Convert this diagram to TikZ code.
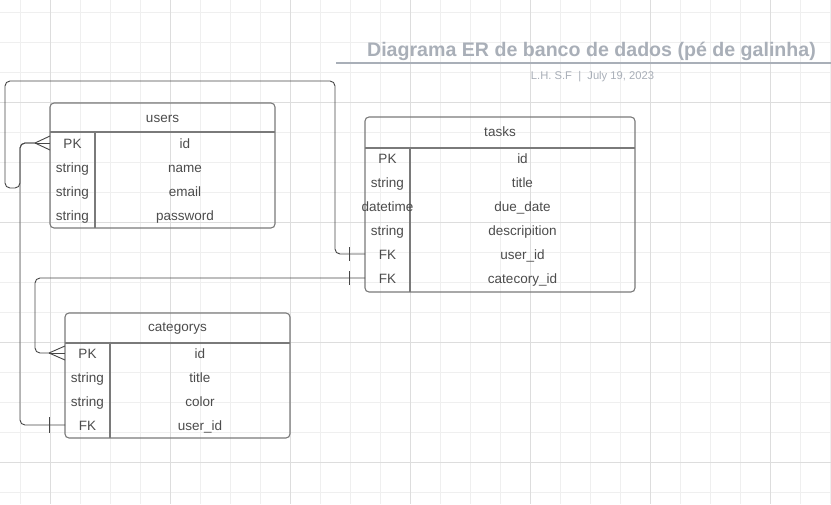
\documentclass[tikz,border=0pt]{standalone}
\usepackage{fontspec}
\setmainfont{Liberation Sans}
\usetikzlibrary{calc}
\definecolor{gridminor}{HTML}{EFEFEF}
\definecolor{gridmajor}{HTML}{DDDDDD}
\definecolor{boxline}{HTML}{7A7A7A}
\definecolor{txt}{HTML}{4C4C4C}
\definecolor{conn}{HTML}{474747}
\definecolor{titlec}{HTML}{A9AFB8}
\begin{document}
\begin{tikzpicture}[x=1pt,y=-1pt,
  tbl/.style={draw=boxline, line width=1.1pt, rounded corners=4pt, inner sep=0pt, outer sep=0pt},
  sepline/.style={draw=boxline, line width=1.1pt},
  cell/.style={text=txt, font=\fontsize{13.5}{15}\selectfont, inner sep=0pt, text height=11.8pt, text depth=1.8pt},
  link/.style={draw=conn, line width=0.9pt, rounded corners=5pt},
  barmark/.style={draw=conn, line width=0.9pt},
  minorline/.style={draw=gridminor, line width=0.8pt},
  majorline/.style={draw=gridmajor, line width=0.9pt}]
\useasboundingbox (0,0) rectangle (831,504);
\fill[white] (0,0) rectangle (831,504);
% grid
\foreach \x in {20,50,...,830} \draw[minorline] (\x,0) -- (\x,504);
\foreach \y in {12,42,...,502} \draw[minorline] (0,\y) -- (831,\y);
\foreach \x in {50,170,...,770} \draw[majorline] (\x,0) -- (\x,504);
\foreach \y in {102,222,...,462} \draw[majorline] (0,\y) -- (831,\y);

% title
\node[text=titlec, font=\bfseries\fontsize{19.6}{22}\selectfont, anchor=base, inner sep=0pt] (title) at (591.5,56.7) {Diagrama ER de banco de dados (pé de galinha)};
\draw[titlec, line width=1.8pt] (336,63.3) -- (831,63.3);
\node[text=titlec, font=\fontsize{11.2}{13}\selectfont, anchor=base, inner sep=0pt] (subtitle) at (592.5,79) {L.H. S.F \ |\ \ July 19, 2023};

% users
\node[tbl, minimum width=225pt, minimum height=125pt] (users) at (162.5,165.5) {};
\draw[sepline] (50,132) -- (275,132);
\draw[sepline] (95,132) -- (95,228);
\node[cell] (uhead) at (162.5,117) {users};
\node[cell] (upk) at (72.5,143) {PK};
\node[cell] (ut2) at (72.5,167) {string};
\node[cell] (ut3) at (72.5,191) {string};
\node[cell] (ut4) at (72.5,215) {string};
\node[cell] (un1) at (185,143) {id};
\node[cell] (un2) at (185,167) {name};
\node[cell] (un3) at (185,191) {email};
\node[cell] (un4) at (185,215) {password};

% tasks
\node[tbl, minimum width=270pt, minimum height=175pt] (tasks) at (500,204.5) {};
\draw[sepline] (365,148) -- (635,148);
\draw[sepline] (410,148) -- (410,292);
\node[cell] (thead) at (500,131.5) {tasks};
\node[cell] (tpk) at (387.5,158) {PK};
\node[cell] (tt2) at (387.5,182) {string};
\node[cell] (tt3) at (387.5,206) {datetime};
\node[cell] (tt4) at (387.5,230) {string};
\node[cell] (tuid) at (387.5,254) {FK};
\node[cell] (tcid) at (387.5,278) {FK};
\node[cell] (tn1) at (522.5,158) {id};
\node[cell] (tn2) at (522.5,182) {title};
\node[cell] (tn3) at (522.5,206) {due\_date};
\node[cell] (tn4) at (522.5,230) {descripition};
\node[cell] (tn5) at (522.5,254) {user\_id};
\node[cell] (tn6) at (522.5,278) {catecory\_id};

% categorys
\node[tbl, minimum width=225pt, minimum height=125pt] (cats) at (177.5,375.5) {};
\draw[sepline] (65,343) -- (290,343);
\draw[sepline] (110,343) -- (110,438);
\node[cell] (chead) at (177.5,326.5) {categorys};
\node[cell] (cpk) at (87.5,353) {PK};
\node[cell] (ct2) at (87.5,377) {string};
\node[cell] (ct3) at (87.5,401) {string};
\node[cell] (cfk) at (87.5,425) {FK};
\node[cell] (cn1) at (200,353) {id};
\node[cell] (cn2) at (200,377) {title};
\node[cell] (cn3) at (200,401) {color};
\node[cell] (cn4) at (200,425) {user\_id};

% connector bend points
\coordinate (ufoot) at (35,143);
\coordinate (ubus) at (20,143);
\coordinate (c1a) at (335,81);
\coordinate (c1b) at (5,188);
\coordinate (c1c) at (20,188);
\coordinate (cbend) at (35,353);
\coordinate (cfoot) at (49,353);

% tasks.user_id -> users.id
\draw[link] (tasks.west |- tuid) -| (c1a) -| (c1b) -- (c1c) |- (ufoot);
% categorys.user_id -> users.id
\draw[link] (cats.west |- cfk) -| (ubus) -- (ufoot);
% tasks.catecory_id -> categorys.id
\draw[link] (tasks.west |- tcid) -| (cbend) -- (cfoot);

% crow's feet
\draw[barmark] (ufoot) -- ($(users.west |- upk)+(0,-7)$);
\draw[barmark] (ufoot) -- (users.west |- upk);
\draw[barmark] (ufoot) -- ($(users.west |- upk)+(0,7)$);
\draw[barmark] (cfoot) -- ($(cats.west |- cpk)+(0,-7)$);
\draw[barmark] (cfoot) -- (cats.west |- cpk);
\draw[barmark] (cfoot) -- ($(cats.west |- cpk)+(0,7)$);

% one-marks
\draw[barmark] ($(tasks.west |- tuid)+(-16,-7)$) -- ++(0,14);
\draw[barmark] ($(tasks.west |- tcid)+(-16,-7)$) -- ++(0,14);
\draw[barmark] ($(cats.west |- cfk)+(-16,-8)$) -- ++(0,16);
\end{tikzpicture}
\end{document}
